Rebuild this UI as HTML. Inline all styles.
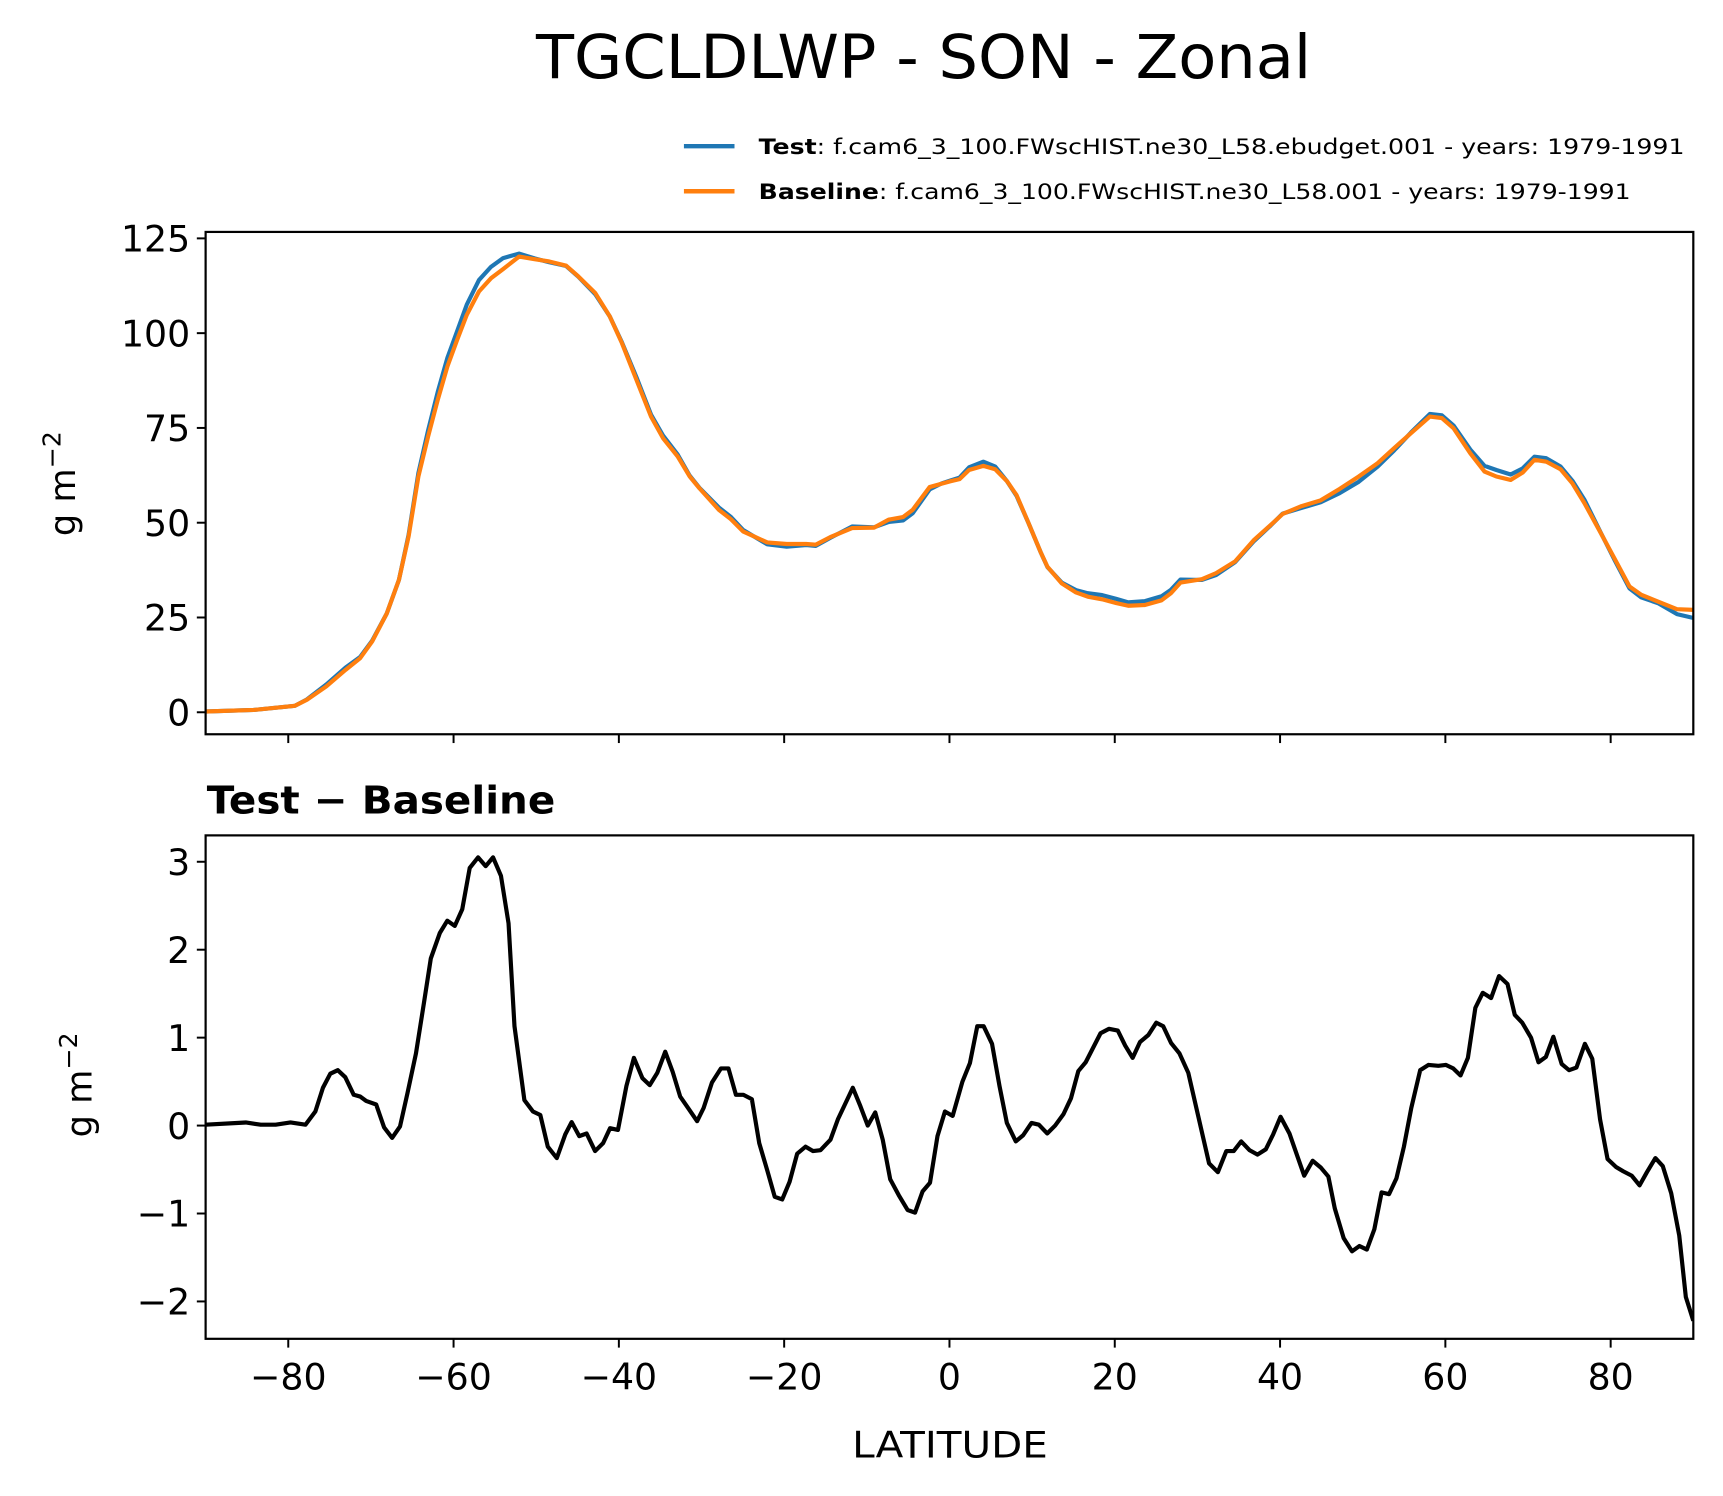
<!DOCTYPE html>
<html><head><meta charset="utf-8"><style>
html,body{margin:0;padding:0;background:#fff}
svg{display:block}
text{font-family:"DejaVu Sans","Liberation Sans",sans-serif;fill:#000}
</style></head><body>
<svg id="chart" width="1723" height="1496" viewBox="0 0 1567 1361" preserveAspectRatio="none" xmlns="http://www.w3.org/2000/svg">
<text x="840" y="71" font-size="55" text-anchor="middle" textLength="705" lengthAdjust="spacingAndGlyphs">TGCLDLWP - SON - Zonal</text>
<g>
<line x1="622" y1="133" x2="668" y2="133" stroke="#1f77b4" stroke-width="4"/>
<text x="690" y="140" font-size="19" textLength="842" lengthAdjust="spacingAndGlyphs"><tspan font-weight="bold">Test</tspan>: f.cam6_3_100.FWscHIST.ne30_L58.ebudget.001 - years: 1979-1991</text>
<line x1="622" y1="174" x2="668" y2="174" stroke="#ff7f0e" stroke-width="4"/>
<text x="690" y="181" font-size="19" textLength="793" lengthAdjust="spacingAndGlyphs"><tspan font-weight="bold">Baseline</tspan>: f.cam6_3_100.FWscHIST.ne30_L58.001 - years: 1979-1991</text>
</g>
<g id="top"></g>
<g id="bot"></g>
<text x="188" y="740" font-size="35" font-weight="bold" textLength="317" lengthAdjust="spacingAndGlyphs">Test − Baseline</text>
<text transform="translate(68,440) rotate(-90)" font-size="32" text-anchor="middle">g m<tspan dy="-13" font-size="23">−2</tspan></text>
<text transform="translate(83,987) rotate(-90)" font-size="32" text-anchor="middle">g m<tspan dy="-13" font-size="23">−2</tspan></text>
<text x="864" y="1326" font-size="33" text-anchor="middle" textLength="178" lengthAdjust="spacingAndGlyphs">LATITUDE</text>
</svg>
<script>
const xTicks=[-80,-60,-40,-20,0,20,40,60,80];
const topYTicks=[0,25,50,75,100,125];
const botYTicks=[-2,-1,0,1,2,3];
const baseLat=[-90.07,-84.2,-79.2,-77.75,-75.41,-73.06,-71.3,-69.84,-68.08,-66.61,-65.44,-64.26,-63.09,-61.92,-60.74,-59.57,-58.4,-56.93,-55.47,-54,-52.07,-50.19,-48.43,-46.38,-44.91,-42.86,-41.1,-39.63,-37.87,-36.11,-34.65,-32.89,-31.42,-30.25,-27.9,-26.43,-24.97,-22.04,-19.69,-17.34,-16.17,-14.41,-11.77,-9.13,-7.37,-5.61,-4.44,-2.39,-0.92,
0.08,1.22,2.37,4.1,5.54,6.97,8.12,9.56,11,11.86,13.58,15.31,16.74,18.47,20.19,21.63,23.64,25.65,26.8,27.95,30.54,32.26,34.56,36.86,38.87,40.31,42.61,44.91,47.21,49.51,51.81,53.82,55.83,58.13,59.57,61,63.02,64.74,66.17,67.9,69.34,70.78,72.21,73.94,75.37,76.81,78.82,80.55,82.27,83.71,85.72,88.02,90.2];
const baselineVals=[0.2,0.6,1.7,3.3,6.8,11.2,14.3,18.7,26.1,34.9,46.4,62.2,72.7,82.4,91.2,98.2,104.8,111,114.5,116.9,120.2,119.5,118.9,117.8,115,110.6,104.4,97.4,87.7,78,72.3,67.5,62.2,59.1,53.4,50.9,47.7,44.8,44.4,44.4,44.2,46.2,48.6,48.7,50.8,51.5,53.4,59.4,60.3,
60.9,61.5,63.9,65,64.1,60.9,57.3,49.9,42.4,38.4,34,31.6,30.5,29.8,28.8,28.1,28.3,29.5,31.4,34.2,35.1,36.7,39.8,45.5,49.4,52.3,54.4,55.9,58.9,62.2,65.7,69.7,73.6,78,77.6,74.9,68.3,63.5,62.2,61.3,63.2,66.6,66.1,64.1,60.4,55.2,47.2,40.2,33.2,31,29.2,27.2,27];
const testVals=[0.2,0.6,1.7,3.4,7.3,11.8,14.6,18.9,26.1,34.9,46.8,63.1,74.3,84.5,93.5,100.5,107.5,114,117.5,119.8,121,119.7,118.7,117.7,114.9,110.3,104.4,97.6,88.4,78.5,73,68,62.4,59.2,54,51.5,48.1,44.3,43.7,44.1,43.9,46,49,48.8,50.2,50.6,52.5,58.8,60.4,
61.1,61.9,64.6,66.1,64.8,60.9,57.1,49.9,42.4,38.3,34.2,32.2,31.4,30.9,29.9,29,29.3,30.6,32.3,35,34.9,36.2,39.6,45.2,49.3,52.4,53.9,55.4,57.8,60.8,64.8,69.1,73.8,78.7,78.3,75.6,69.3,65,63.9,62.7,64.3,67.4,67,64.8,61.1,56.1,47.3,39.8,32.7,30.3,28.8,25.9,24.8];
const diffLat=[-90,-85.15,-83.34,-81.53,-79.73,-77.92,-76.72,-75.81,-74.91,-74.01,-73.1,-72.08,-71.3,-70.57,-69.37,-68.41,-67.44,-66.48,-65.58,-64.55,-63.59,-62.75,-61.66,-60.76,-59.86,-58.95,-58.05,-57.03,-56.12,-55.22,-54.26,-53.35,-52.63,-51.43,-50.4,-49.5,-48.6,-47.51,-46.49,-45.71,-44.8,-43.9,-42.88,-41.91,-41.07,-40.11,-39.08,-38.18,-37.16,-36.26,-35.35,-34.39,-33.49,-32.58,-31.56,-30.53,-29.75,-28.73,-27.64,-26.74,-25.84,-24.93,-23.91,-23.01,-22.04,-21.14,-20.24,-19.34,-18.43,-17.41,-16.51,-15.6,-14.4,-13.5,-11.69,-10.78,-9.88,-8.98,-8.08,-7.17,-6.15,-5.07,-4.16,-3.26,-2.36,-1.45,-0.55,0.38,
1.57,2.47,3.36,4.14,5.15,6.05,6.94,8.02,8.91,9.93,10.82,11.83,12.79,13.8,14.7,15.59,16.49,18.28,19.29,20.37,21.26,22.16,23.05,24.07,25.02,25.86,26.81,27.83,28.9,31.41,32.48,33.5,34.39,35.29,36.3,37.26,38.27,39.17,40.06,41.13,42.92,43.94,44.95,45.85,46.62,47.7,48.7,49.6,50.5,51.4,52.29,53.19,54.08,54.98,55.87,56.95,57.96,59.15,60.05,60.94,61.84,62.73,63.63,64.52,65.54,66.49,67.51,68.4,69.3,70.37,71.27,72.16,73.06,74.07,74.97,75.86,76.88,77.77,78.72,79.62,80.64,81.53,82.55,83.5,84.39,85.41,86.3,87.32,88.3,89.1,90];
const diffVals=[0.01,0.035,0.01,0.01,0.035,0.01,0.16,0.43,0.59,0.63,0.55,0.35,0.33,0.28,0.24,-0.02,-0.14,-0.01,0.37,0.82,1.39,1.9,2.19,2.33,2.27,2.46,2.93,3.05,2.95,3.05,2.84,2.3,1.13,0.29,0.16,0.12,-0.24,-0.37,-0.1,0.04,-0.12,-0.09,-0.29,-0.2,-0.03,-0.05,0.45,0.77,0.54,0.46,0.6,0.84,0.61,0.33,0.19,0.05,0.2,0.49,0.65,0.65,0.35,0.35,0.3,-0.2,-0.51,-0.81,-0.84,-0.64,-0.32,-0.24,-0.29,-0.28,-0.16,0.07,0.43,0.22,0,0.15,-0.16,-0.61,-0.79,-0.96,-0.99,-0.75,-0.65,-0.12,0.16,0.11,
0.5,0.71,1.13,1.13,0.93,0.45,0.03,-0.18,-0.11,0.03,0.01,-0.09,0,0.13,0.31,0.62,0.72,1.05,1.1,1.08,0.91,0.77,0.95,1.03,1.17,1.13,0.94,0.82,0.6,-0.43,-0.53,-0.29,-0.29,-0.18,-0.28,-0.33,-0.27,-0.1,0.1,-0.09,-0.57,-0.4,-0.48,-0.58,-0.94,-1.28,-1.43,-1.37,-1.41,-1.18,-0.76,-0.78,-0.6,-0.24,0.2,0.63,0.69,0.68,0.69,0.65,0.57,0.77,1.34,1.51,1.45,1.7,1.61,1.26,1.17,1,0.72,0.78,1.01,0.7,0.63,0.66,0.93,0.76,0.07,-0.38,-0.47,-0.52,-0.57,-0.68,-0.53,-0.37,-0.46,-0.77,-1.25,-1.95,-2.22];

const NS='http://www.w3.org/2000/svg';
const X0=187,X1=1540;
function xs(lat){return X0+(lat+90)/180*(X1-X0);}
function mk(tag,attrs,parent){const e=document.createElementNS(NS,tag);for(const k in attrs)e.setAttribute(k,attrs[k]);parent.appendChild(e);return e;}
function fmt(t){return t<0?'\u2212'+(-t):String(t);}
function panel(g,top,bottom,ymin,ymax,yticks,showXLabels,clipId){
  const ys=v=>bottom-(v-ymin)/(ymax-ymin)*(bottom-top);
  const defs=mk('defs',{},g);
  const cp=mk('clipPath',{id:clipId},defs);
  mk('rect',{x:X0,y:top,width:X1-X0,height:bottom-top},cp);
  yticks.forEach(t=>{
    const y=ys(t);
    const tk=mk('line',{x1:X0-8,x2:X0,y1:y,y2:y,stroke:'#000','stroke-width':1.8},g);
    
    
    const tl=mk('text',{x:X0-14,y:y+12,'font-size':33,'text-anchor':'end'},g);
    
    
    tl.textContent=fmt(t);
  });
  xTicks.forEach(t=>{
    const x=xs(t);
    const tk=mk('line',{x1:x,x2:x,y1:bottom,y2:bottom+8,stroke:'#000','stroke-width':1.8},g);
    
    
    if(showXLabels){
      const tl=mk('text',{x:x,y:bottom+46,'font-size':33,'text-anchor':'middle'},g);
      
      
      tl.textContent=fmt(t);
    }
  });
  return ys;
}
function line(g,lat,vals,ys,color,name,clipId){
  const d=lat.map((la,i)=>(i?'L':'M')+xs(la).toFixed(1)+' '+ys(vals[i]).toFixed(1)).join(' ');
  const p=mk('path',{d:d,fill:'none',stroke:color,'stroke-width':3.8,'stroke-linejoin':'round','clip-path':'url(#'+clipId+')'},g);
  
  
}
const gt=document.getElementById('top');
const ysT=panel(gt,211,668,-5.8,126.7,topYTicks,false,'ct');
line(gt,baseLat,testVals,ysT,'#1f77b4','test-line','ct');
line(gt,baseLat,baselineVals,ysT,'#ff7f0e','baseline-line','ct');
const ft=mk('rect',{x:X0,y:211,width:X1-X0,height:457,fill:'none',stroke:'#000','stroke-width':2},gt);


const gb=document.getElementById('bot');
const ysB=panel(gb,760,1218,-2.425,3.3,botYTicks,true,'cb');
line(gb,diffLat,diffVals,ysB,'#000','difference-line','cb');
const fb=mk('rect',{x:X0,y:760,width:X1-X0,height:458,fill:'none',stroke:'#000','stroke-width':2},gb);


</script>
</body></html>
